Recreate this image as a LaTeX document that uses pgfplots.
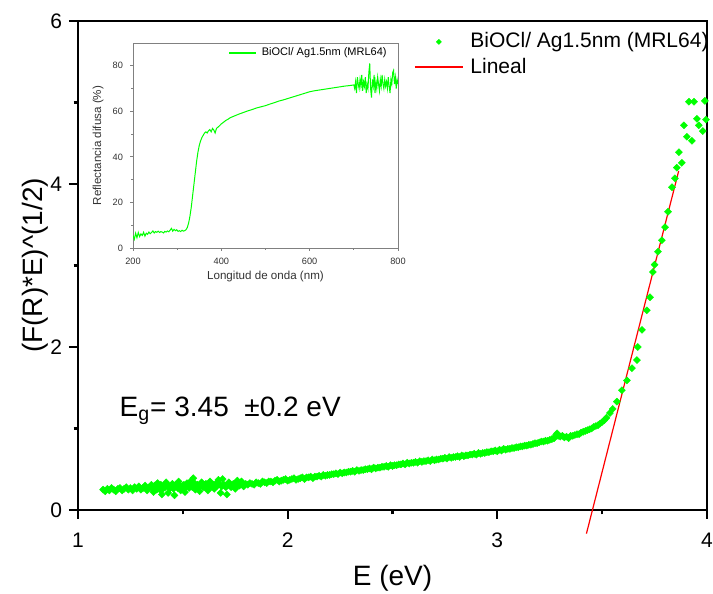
\documentclass[border=0pt]{standalone}
\usepackage{fontspec}
\setmainfont{Liberation Sans}
\usepackage{pgfplots}
\pgfplotsset{compat=1.18}
\definecolor{brightgreen}{RGB}{0,255,0}
\pgfplotsset{
  marklegend/.style={legend image code/.code={\draw[mark repeat=2,mark phase=2,##1,mark size=0.9pt] plot coordinates {(0pt,0pt) (12pt,0pt) (24pt,0pt)};}},
  linelegend/.style={legend image code/.code={\draw[##1] (0pt,0pt) -- (24pt,0pt);}},
  shortlegend/.style={legend image code/.code={\draw[##1, draw=brightgreen, line width=0.8pt] (0pt,0pt) -- (13.5pt,0pt);}},
}

\begin{document}
\begin{tikzpicture}
\useasboundingbox (-39pt,-42pt) rectangle (317.5pt,255pt);
\begin{axis}[
    name=main,
    scale only axis,
    width=314.5pt, height=244.5pt,
    xmin=1, xmax=4, ymin=0, ymax=6,
    xtick={1,2,3,4}, ytick={0,2,4,6},
    minor xtick={1.5,2.5,3.5}, minor ytick={1,3,5},
    xtick pos=bottom, ytick pos=left,
    tick align=outside,
    major tick length=4.5pt, minor tick length=2.2pt,
    axis line style={line width=1.1pt},
    every tick/.style={black, line width=1.1pt},
    /pgf/number format/assume math mode=true,
    tick label style={font=\fontsize{10.5}{12}\selectfont},
    xticklabel style={yshift=-3.5pt},
    xlabel={E (eV)},
    ylabel={(F(R)*E)\textasciicircum(1/2)},
    label style={font=\fontsize{14}{16}\selectfont},
    x label style={at={(axis description cs:0.5,-0.139)},anchor=center},
    y label style={at={(axis description cs:-0.068,0.5)},anchor=center},
    clip=false,
    legend cell align=left,
    legend style={at={(axis description cs:0.534,0.985)}, anchor=north west,
        draw=none, fill=none, inner sep=0pt, row sep=-0.5pt,
        font=\fontsize{10.5}{12}\selectfont,
        /tikz/column sep=1.5pt},
]
\addplot[only marks, mark=square*, mark size=1.25pt,
    mark options={draw=brightgreen, fill=brightgreen, line width=0.2pt, rotate=45}, marklegend]
coordinates {
(1.12,0.25) (1.13,0.23) (1.14,0.26) (1.15,0.24) (1.16,0.27) (1.17,0.25) (1.18,0.23)
(1.19,0.26) (1.20,0.27) (1.21,0.24) (1.22,0.26) (1.23,0.28) (1.24,0.25) (1.25,0.27)
(1.26,0.24) (1.27,0.28) (1.28,0.26) (1.29,0.29) (1.30,0.25) (1.31,0.27) (1.32,0.30)
(1.33,0.24) (1.34,0.28) (1.35,0.31) (1.36,0.22) (1.37,0.29) (1.38,0.33) (1.39,0.25)
(1.40,0.19) (1.41,0.30) (1.42,0.34) (1.43,0.21) (1.44,0.27) (1.45,0.32) (1.46,0.18)
(1.47,0.29) (1.48,0.35) (1.49,0.24) (1.50,0.30) (1.51,0.22) (1.52,0.33) (1.53,0.27)
(1.54,0.36) (1.55,0.39) (1.56,0.25) (1.57,0.31) (1.58,0.23) (1.59,0.34) (1.60,0.28)
(1.61,0.32) (1.62,0.24) (1.63,0.35) (1.64,0.29) (1.65,0.26) (1.66,0.33) (1.67,0.37)
(1.68,0.21) (1.69,0.38) (1.70,0.30) (1.71,0.19) (1.72,0.34) (1.73,0.28) (1.74,0.32)
(1.75,0.26) (1.76,0.36) (1.77,0.30) (1.78,0.35) (1.79,0.29) (1.80,0.32) (1.81,0.31)
(1.355,0.27) (1.365,0.30) (1.375,0.25) (1.385,0.29) (1.395,0.31) (1.405,0.26)
(1.415,0.28) (1.425,0.31) (1.435,0.27) (1.445,0.30) (1.455,0.26) (1.465,0.31)
(1.475,0.27) (1.485,0.30) (1.495,0.27) (1.505,0.31) (1.515,0.28) (1.525,0.30)
(1.535,0.31) (1.545,0.28) (1.555,0.33) (1.565,0.29) (1.575,0.27) (1.585,0.31)
(1.595,0.29) (1.605,0.31) (1.615,0.28) (1.625,0.32) (1.635,0.29) (1.645,0.31)
(1.655,0.28) (1.665,0.30) (1.675,0.32) (1.685,0.29) (1.695,0.31) (1.705,0.28)
(1.715,0.31) (1.725,0.30) (1.735,0.29) (1.745,0.31) (1.755,0.30) (1.765,0.32)
(1.82,0.33) (1.83,0.32) (1.84,0.31) (1.85,0.34) (1.86,0.33) (1.87,0.32) (1.88,0.35)
(1.89,0.34) (1.90,0.33) (1.91,0.35) (1.92,0.35) (1.93,0.34) (1.94,0.36) (1.95,0.37)
(1.96,0.35) (1.97,0.36) (1.98,0.37) (1.99,0.38) (2.00,0.36)
(2.01,0.37) (2.02,0.38) (2.03,0.39) (2.04,0.37) (2.05,0.38) (2.06,0.39) (2.07,0.40)
(2.08,0.38) (2.09,0.40) (2.10,0.40) (2.11,0.41) (2.12,0.39) (2.13,0.41) (2.14,0.41)
(2.15,0.42) (2.16,0.41) (2.17,0.43) (2.18,0.42) (2.19,0.43) (2.20,0.43) (2.21,0.44)
(2.22,0.44) (2.23,0.45) (2.24,0.44) (2.25,0.46) (2.26,0.45) (2.27,0.46) (2.28,0.46)
(2.29,0.47) (2.30,0.47) (2.31,0.48) (2.32,0.47) (2.33,0.49) (2.34,0.48) (2.35,0.49)
(2.36,0.49) (2.37,0.50) (2.38,0.50) (2.39,0.51) (2.40,0.50) (2.41,0.52) (2.42,0.51)
(2.43,0.52) (2.44,0.52) (2.45,0.53) (2.46,0.53) (2.47,0.54) (2.48,0.53) (2.49,0.55)
(2.50,0.54) (2.51,0.55) (2.52,0.55) (2.53,0.56) (2.54,0.56) (2.55,0.57) (2.56,0.56)
(2.57,0.58) (2.58,0.57) (2.59,0.58) (2.60,0.58) (2.61,0.59) (2.62,0.58) (2.63,0.60)
(2.64,0.59) (2.65,0.60) (2.66,0.60) (2.67,0.61) (2.68,0.60) (2.69,0.62) (2.70,0.61)
(2.71,0.62) (2.72,0.62) (2.73,0.63) (2.74,0.63) (2.75,0.64) (2.76,0.63) (2.77,0.65)
(2.78,0.64) (2.79,0.65) (2.80,0.65) (2.81,0.66) (2.82,0.65) (2.83,0.67) (2.84,0.66)
(2.85,0.67) (2.86,0.67) (2.87,0.68) (2.88,0.68) (2.89,0.69) (2.90,0.68) (2.91,0.70)
(2.92,0.69) (2.93,0.70) (2.94,0.70) (2.95,0.71) (2.96,0.71) (2.97,0.72) (2.98,0.72)
(2.99,0.73) (3.00,0.72) (3.01,0.74) (3.02,0.73) (3.03,0.75) (3.04,0.74) (3.05,0.75)
(3.06,0.75) (3.07,0.76) (3.08,0.76) (3.09,0.77) (3.10,0.77) (3.11,0.78) (3.12,0.78)
(3.13,0.79) (3.14,0.79) (3.15,0.80) (3.16,0.80) (3.17,0.81) (3.18,0.82) (3.19,0.82)
(3.20,0.83) (3.21,0.84) (3.22,0.84) (3.23,0.85) (3.24,0.85) (3.25,0.86) (3.26,0.87)
(3.27,0.88) (3.28,0.92) (3.285,0.94) (3.29,0.91) (3.30,0.90) (3.31,0.91) (3.32,0.89)
(3.33,0.90) (3.34,0.88) (3.35,0.91) (3.36,0.91) (3.37,0.92) (3.38,0.93) (3.39,0.93)
(3.40,0.95) (3.41,0.96) (3.42,0.97) (3.43,0.98) (3.44,0.99) (3.45,1.00) (3.46,1.02)
(3.47,1.03) (3.48,1.04) (3.49,1.06) (3.50,1.08) (3.51,1.10) (3.52,1.13)
(3.537,1.19) (3.55,1.24) (3.57,1.33) (3.594,1.47) (3.618,1.59) (3.642,1.74)
(3.666,1.84) (3.67,2.00) (3.69,2.21) (3.713,2.45) (3.728,2.61) (3.742,2.92)
(3.75,3.01) (3.766,3.17) (3.785,3.31) (3.80,3.47) (3.814,3.66) (3.833,3.96)
(3.847,4.07) (3.856,4.20) (3.88,4.26) (3.866,4.39) (3.89,4.72) (3.904,4.58)
(3.928,4.53) (3.914,5.01) (3.938,5.01) (3.952,4.80) (3.961,4.72) (3.98,4.65)
(3.99,5.02) (3.995,4.79)
};
\addlegendentry{BiOCl/ Ag1.5nm (MRL64)}
\addplot[red, line width=0.6pt, linelegend]
coordinates {(3.425,-0.29) (3.865,4.16)};
\addlegendentry{Lineal}
\node[anchor=west, font=\fontsize{14}{16}\selectfont] at (axis cs:1.165,1.22)
    {E\textsubscript{g}= 3.45\ \ ±0.2 eV};
\end{axis}

\begin{axis}[
    at={(27.5pt,131pt)}, anchor=south west,
    scale only axis,
    width=132.5pt, height=102.5pt,
    xmin=200, xmax=800, ymin=0, ymax=90,
    xtick={200,400,600,800}, ytick={0,20,40,60,80},
    minor xtick={300,500,700}, minor ytick={10,30,50,70},
    xtick pos=bottom, ytick pos=left,
    tick align=outside,
    major tick length=1.5pt, minor tick length=1pt,
    axis line style={gray, line width=0.4pt},
    every tick/.style={gray, line width=0.4pt},
    /pgf/number format/assume math mode=true,
    tick label style={font=\fontsize{4.6}{5}\selectfont, black!80},
    xlabel={Longitud de onda (nm)},
    ylabel={Reflectancia difusa (\%)},
    label style={font=\fontsize{5.8}{7}\selectfont, black!80},
    x label style={at={(axis description cs:0.5,-0.14)},anchor=center},
    y label style={at={(axis description cs:-0.132,0.5)},anchor=center},
    legend style={at={(axis description cs:0.358,0.951)}, anchor=west,
        draw=none, fill=none, inner sep=0pt,
        font=\fontsize{5.5}{6}\selectfont,
        /tikz/column sep=0.5pt},
]
\addplot[color=brightgreen, line width=0.5pt, shortlegend]
coordinates {
(200,5.5) (203,3.8) (206,6.5) (209,4.5) (212,6.8) (215,5.0) (218,6.2) (221,5.5)
(224,6.9) (227,5.2) (230,6.5) (233,6.0) (236,7.0) (239,6.3) (242,6.8) (245,7.5)
(248,6.6) (251,7.2) (254,6.9) (257,7.4) (260,6.8) (263,7.2) (266,7.0) (269,6.6)
(272,7.3) (275,7.0) (278,7.5) (281,7.1) (284,7.8) (287,8.6) (290,7.4) (293,8.2)
(296,7.6) (299,8.0) (302,7.3) (305,7.6) (308,7.2) (311,7.8) (314,7.4) (317,7.6)
(320,8.0) (323,9.0) (326,11) (329,14) (332,18) (335,23) (338,28) (341,33)
(344,38) (347,42) (350,45) (353,47) (356,48.5) (359,49.5) (362,50.5) (365,51)
(368,50.5) (371,51.5) (374,52) (377,51) (380,52.5) (383,51.8) (386,50.5) (389,52.5)
(392,53) (395,53.5) (400,54.5) (405,55.2) (410,56) (415,56.5) (420,57.2) (430,58)
(440,58.8) (450,59.5) (460,60.2) (470,60.8) (480,61.5) (490,62) (500,62.5)
(510,63.2) (520,63.8) (530,64.5) (540,65) (550,65.6) (560,66.2) (570,66.8)
(580,67.4) (590,68) (600,68.6) (610,69) (620,69.3) (630,69.6) (640,69.9)
(650,70.2) (660,70.5) (670,70.8) (680,71.1) (690,71.3) (700,71.6)
(702,70) (704,73) (706,68) (708,75) (710,72) (712,70) (714,74) (716,71) (718,76)
(720,69) (722,73) (724,71) (726,75) (728,68) (730,72) (732,70) (734,77) (736,81)
(738,70) (740,66) (742,74) (744,71) (746,76) (748,68) (750,73) (752,70) (754,75)
(756,72) (758,69) (760,74) (762,71) (764,76) (766,72) (768,70) (770,74) (772,71)
(774,73) (776,70) (778,75) (780,71) (782,68) (784,74) (786,72) (788,77) (790,78)
(792,72) (794,75) (796,70) (798,74) (800,72)
};
\addlegendentry{BiOCl/ Ag1.5nm (MRL64)}
\end{axis}
\end{tikzpicture}
\end{document}
